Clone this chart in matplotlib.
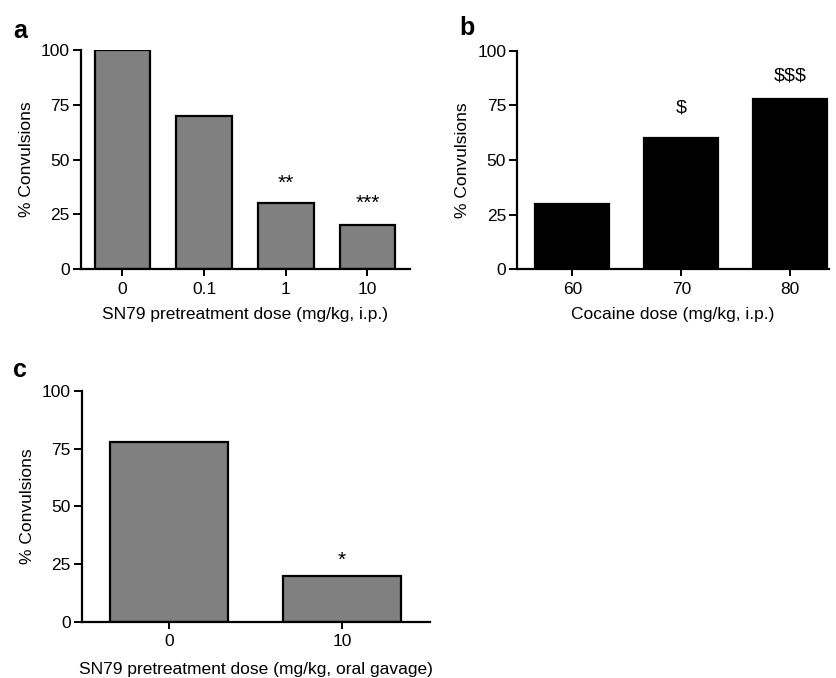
import matplotlib
matplotlib.use("Agg")
import matplotlib.pyplot as plt

plt.rcParams['font.family'] = ['Liberation Sans', 'DejaVu Sans']

# Panel a
a_labels = ["0", "0.1", "1", "10"]
a_values = [100, 70, 30, 20]
a_sig = ["", "", "**", "***"]
a_xlabel = "SN79 pretreatment dose (mg/kg, i.p.)"

# Panel b
b_labels = ["60", "70", "80"]
b_values = [30, 60, 78]
b_sig = ["", "$", "$$$"]
b_xlabel = "Cocaine dose (mg/kg, i.p.)"

# Panel c
c_labels = ["0", "10"]
c_values = [78, 20]
c_sig = ["", "*"]
c_xlabel = "SN79 pretreatment dose (mg/kg, oral gavage)"

ylabel = "% Convulsions"
yticks = [0, 25, 50, 75, 100]

fig = plt.figure(figsize=(8.37, 6.78), dpi=100)

def draw(rect, labels, values, sig, xlabel, color, xlim, letter, letter_xy,
         sig_offsets, xlabelpad):
    ax = fig.add_axes(rect)
    x = list(range(len(values)))
    ax.bar(x, values, width=0.68, color=color, edgecolor='black', linewidth=1.6,
           zorder=2)
    ax.set_xlim(*xlim)
    ax.set_ylim(0, 100)
    ax.set_yticks(yticks)
    ax.set_xticks(x)
    ax.set_xticklabels(labels)
    for s in ['top', 'right']:
        ax.spines[s].set_visible(False)
    for s in ['left', 'bottom']:
        ax.spines[s].set_linewidth(1.6)
    ax.tick_params(axis='y', direction='out', length=6, width=1.4, pad=2,
                   labelsize=12.5)
    ax.tick_params(axis='x', direction='out', length=5, width=1.4, pad=4,
                   labelsize=12.5)
    ax.set_ylabel(ylabel, fontsize=12.5, labelpad=5)
    ax.set_xlabel(xlabel, fontsize=12.5, labelpad=xlabelpad)
    for xi, v, s, off in zip(x, values, sig, sig_offsets):
        if s:
            fs = 15 if '*' in s else 14
            ax.text(xi, v + off, s, ha='center', va='center', fontsize=fs,
                    clip_on=False)
    fig.text(letter_xy[0], letter_xy[1], letter, fontsize=18, fontweight='bold',
             ha='left', va='baseline')
    return ax

draw([0.0968, 0.6032, 0.393, 0.323], a_labels, a_values, a_sig, a_xlabel,
     '#808080', (-0.505, 3.52), 'a', (13/837, 1 - 38/678),
     [0, 0, 9, 10], 7.5)
draw([0.618, 0.6028, 0.3724, 0.3224], b_labels, b_values, b_sig, b_xlabel,
     'black', (-0.505, 2.355), 'b', (459/837, 1 - 35/678),
     [0, 13.8, 10.4], 7.5)
draw([0.0976, 0.083, 0.416, 0.3403], c_labels, c_values, c_sig, c_xlabel,
     '#808080', (-0.506, 1.507), 'c', (13/837, 1 - 377/678),
     [0, 6.5], 9)

fig.savefig("out.png", dpi=100)
